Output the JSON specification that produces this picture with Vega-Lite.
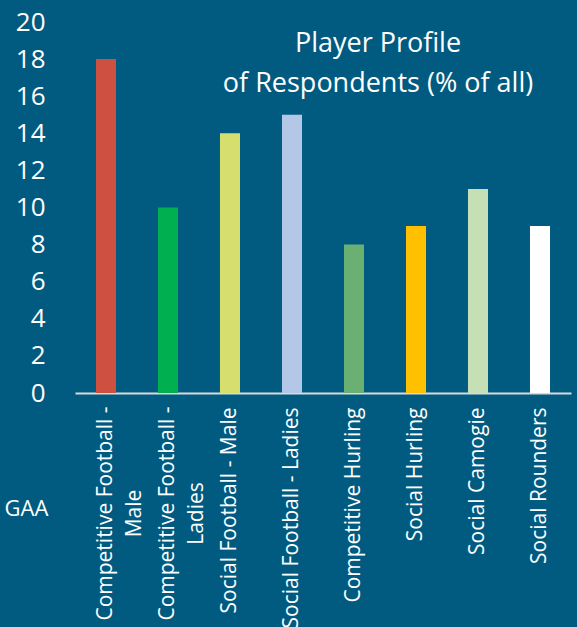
{
  "$schema": "https://vega.github.io/schema/vega-lite/v6.json",
  "width": 496,
  "height": 371,
  "autosize": {"type": "none"},
  "padding": {"left": 75, "top": 22, "right": 6, "bottom": 234},
  "background": "#015b80",
  "config": {
    "view": {"stroke": null},
    "font": "Open Sans"
  },
  "title": {
    "text": ["Player Profile", "of Respondents (% of all)"],
    "font": "Open Sans",
    "fontSize": 27,
    "fontWeight": "normal",
    "color": "#ffffff",
    "anchor": "middle",
    "align": "center",
    "dx": 55,
    "offset": -89,
    "baseline": "top",
    "lineHeight": 40
  },
  "data": {
    "values": [
      {"activity": "Competitive Football - Male", "pct": 18},
      {"activity": "Competitive Football - Ladies", "pct": 10},
      {"activity": "Social Football - Male", "pct": 14},
      {"activity": "Social Football - Ladies", "pct": 15},
      {"activity": "Competitive Hurling", "pct": 8},
      {"activity": "Social Hurling", "pct": 9},
      {"activity": "Social Camogie", "pct": 11},
      {"activity": "Social Rounders", "pct": 9}
    ]
  },
  "mark": {"type": "bar"},
  "encoding": {
    "x": {
      "field": "activity",
      "type": "nominal",
      "sort": null,
      "scale": {"paddingInner": 0.677, "paddingOuter": 0.3385},
      "axis": {
        "title": "GAA",
        "titleFont": "Open Sans",
        "titleFontSize": 22,
        "titleFontWeight": "normal",
        "titleColor": "#ffffff",
        "titleAngle": 0,
        "titleAlign": "left",
        "titleBaseline": "middle",
        "titleX": -71,
        "titleY": 115,
        "domainColor": "#d9d9d9",
        "domainWidth": 2,
        "ticks": false,
        "labelAngle": -90,
        "labelAlign": {"condition": {"test": "indexof(datum.value, 'Competitive Football') == 0", "value": "center"}, "value": "right"},
        "labelPadding": {"condition": {"test": "indexof(datum.value, 'Competitive Football') == 0", "value": 120}, "value": 14},
        "labelBaseline": "middle",
        "labelLimit": 0,
        "labelFont": "Open Sans",
        "labelFontSize": 21,
        "labelLineHeight": 29,
        "labelColor": "#ffffff",
        "labelExpr": "datum.label == 'Competitive Football - Male' ? ['Competitive Football -', 'Male'] : datum.label == 'Competitive Football - Ladies' ? ['Competitive Football -', 'Ladies'] : datum.label"
      }
    },
    "y": {
      "field": "pct",
      "type": "quantitative",
      "scale": {"domain": [0, 20], "nice": false},
      "axis": {
        "title": null,
        "values": [0, 2, 4, 6, 8, 10, 12, 14, 16, 18, 20],
        "grid": false,
        "domain": false,
        "ticks": false,
        "tickSize": 0,
        "labelPadding": 30,
        "labelFont": "Open Sans",
        "labelFontSize": 26,
        "labelColor": "#ffffff"
      }
    },
    "color": {
      "field": "activity",
      "type": "nominal",
      "legend": null,
      "scale": {
        "domain": [
          "Competitive Football - Male",
          "Competitive Football - Ladies",
          "Social Football - Male",
          "Social Football - Ladies",
          "Competitive Hurling",
          "Social Hurling",
          "Social Camogie",
          "Social Rounders"
        ],
        "range": ["#cd5041", "#00b050", "#d6de6e", "#b4c7e7", "#6ab073", "#ffc000", "#c5e0b4", "#ffffff"]
      }
    }
  }
}
